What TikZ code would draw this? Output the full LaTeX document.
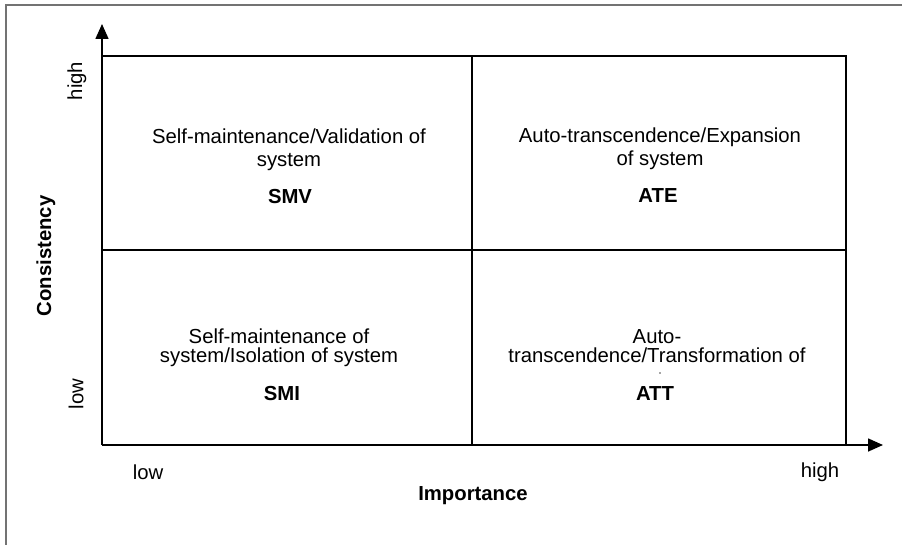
\documentclass[tikz,border=0pt]{standalone}
\usepackage{fontspec}
\setmainfont{Liberation Sans}
\usetikzlibrary{arrows.meta}
\begin{document}
\begin{tikzpicture}[x=1pt,y=-1pt,
  frame/.style={draw=black!55,line width=1.6pt},
  grid/.style={draw=black,line width=1.6pt},
  axis/.style={draw=black,line width=1.6pt,-{Triangle[length=15pt,width=13pt]}},
  quad/.style={align=center,inner sep=0pt,anchor=base,font=\fontsize{20.3}{23}\selectfont},
  quadlow/.style={quad,font=\fontsize{20.3}{18.5}\selectfont},
  code/.style={inner sep=0pt,anchor=base,font=\fontsize{20.3}{23}\selectfont\bfseries},
  tick/.style={inner sep=0pt,anchor=base,font=\fontsize{20.3}{23}\selectfont},
  title/.style={inner sep=0pt,font=\fontsize{20.3}{23}\selectfont\bfseries}]
\useasboundingbox (0,0) rectangle (902,545);
\fill[white] (0,0) rectangle (902,545);
% outer frame (top and left edges)
\coordinate (fa) at (6,545);
\coordinate (fb) at (6,5);
\coordinate (fc) at (902,5);
\draw[frame] (fa) -- (fb) -- (fc);
% corners of the grid
\coordinate (o) at (102,445);
\coordinate (tl) at (102,56);
\coordinate (tr) at (846,56);
\coordinate (br) at (846,445);
\coordinate (mt) at (472,56);
\coordinate (mb) at (472,445);
\coordinate (ml) at (102,250);
\coordinate (mr) at (846,250);
\coordinate (ytip) at (102,24);
\coordinate (xtip) at (883,445);
% quadrant grid
\draw[grid] (tl) -- (tr) -- (br);
\draw[grid] (mt) -- (mb);
\draw[grid] (ml) -- (mr);
% axes
\draw[axis] (o) -- (ytip);
\draw[axis] (o) -- (xtip);
% quadrant labels (node base = baseline of the last line)
\node[quad] (smvt) at (289,167) {Self-maintenance/Validation of\\system};
\node[code] (smv) at (290,204) {SMV};
\node[quad] (atet) at (660,166) {Auto-transcendence/Expansion\\of system};
\node[code] (ate) at (658,203) {ATE};
\node[quadlow] (smit) at (279,362) {Self-maintenance of\\system/Isolation of system};
\node[code] (smi) at (282,400) {SMI};
\node[quadlow] (attt) at (657,362) {Auto-\\transcendence/Transformation of};
\fill[black!70] (660,373) circle (0.8pt);
\node[code] (att) at (655,400) {ATT};
% axis ticks and titles
\node[tick,rotate=90,anchor=center] (yhigh) at (77,81) {high};
\node[tick,rotate=90,anchor=center] (ylow) at (76,394) {low};
\node[title,rotate=90] (ytitle) at (46,256) {Consistency};
\node[tick,anchor=center] (xlow) at (148,472) {low};
\node[tick,anchor=center] (xhigh) at (820,472) {high};
\node[title] (xtitle) at (473,496) {Importance};
\end{tikzpicture}
\end{document}
